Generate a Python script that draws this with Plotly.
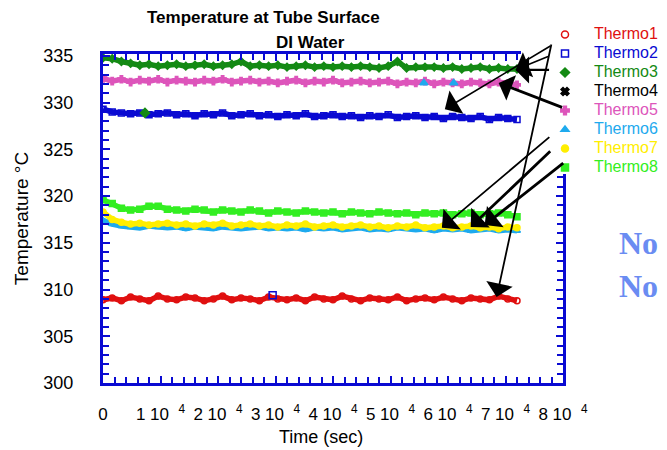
import plotly.graph_objects as go

# ---------------- data ----------------
time_sec = [0, 1600, 3200, 4800, 6400, 8000, 9600, 11200, 12800, 14400,
            16000, 17600, 19200, 20800, 22400, 24000, 25600, 27200, 28800, 30400,
            32000, 33600, 35200, 36800, 38400, 40000, 41600, 43200, 44800, 46400,
            48000, 49600, 51200, 52800, 54400, 56000, 57600, 59200, 60800, 62400,
            64000, 65600, 67200, 68800, 70400, 72000]

thermo1 = [308.9, 309.1, 308.8, 309.2, 309.0, 308.8, 309.3, 309.0, 308.9, 309.2,
           309.1, 308.8, 309.0, 309.3, 308.9, 309.1, 309.0, 308.8, 309.2, 309.0,
           308.9, 309.1, 308.8, 309.2, 309.0, 308.9, 309.3, 309.0, 308.8, 309.1,
           309.0, 308.9, 309.2, 308.8, 309.0, 309.1, 308.9, 309.2, 309.0, 308.8,
           309.1, 309.0, 308.9, 309.3, 309.0, 308.8]
thermo2 = [329.3, 329.0, 328.9, 328.8, 328.9, 328.7, 328.8, 328.9, 328.7, 328.8,
           328.6, 328.8, 328.7, 328.9, 328.6, 328.7, 328.8, 328.6, 328.7, 328.5,
           328.7, 328.6, 328.8, 328.5, 328.6, 328.7, 328.5, 328.6, 328.4, 328.6,
           328.5, 328.7, 328.4, 328.5, 328.6, 328.4, 328.5, 328.3, 328.5, 328.4,
           328.3, 328.5, 328.2, 328.4, 328.3, 328.2]
thermo3 = [334.8, 334.7, 334.4, 334.2, 334.0, 334.1, 333.9, 334.0, 334.1, 333.9,
           334.0, 334.1, 333.9, 334.0, 334.1, 334.4, 333.9, 334.0, 333.9, 334.0,
           333.8, 333.9, 334.0, 333.8, 333.9, 333.8, 333.9, 333.8, 333.9, 333.8,
           333.7, 333.9, 334.4, 333.7, 333.8, 333.8, 333.8, 333.7, 333.8, 333.6,
           333.7, 333.8, 333.6, 333.7, 333.6, 333.6]
thermo4 = [None]
thermo5 = [332.6, 332.3, 332.5, 332.2, 332.4, 332.3, 332.5, 332.2, 332.4, 332.3,
           332.2, 332.4, 332.3, 332.5, 332.2, 332.3, 332.4, 332.2, 332.3, 332.1,
           332.3, 332.4, 332.1, 332.3, 332.2, 332.4, 332.1, 332.2, 332.3, 332.1,
           332.2, 332.3, 332.0, 332.2, 332.1, 332.3, 332.0, 332.2, 332.1, 332.0,
           332.2, 332.1, 332.0, 332.2, 332.0, 331.9]
thermo6 = [317.4, 317.0, 316.8, 316.7, 316.6, 316.8, 316.7, 316.6, 316.7, 316.5,
           316.7, 316.6, 316.5, 316.7, 316.6, 316.5, 316.6, 316.7, 316.5, 316.6,
           316.5, 316.6, 316.4, 316.6, 316.5, 316.6, 316.4, 316.5, 316.6, 316.4,
           316.5, 316.4, 316.6, 316.5, 316.4, 316.5, 316.3, 316.5, 316.4, 316.5,
           316.3, 316.4, 316.5, 316.3, 316.4, 316.3]
thermo7 = [318.3, 317.5, 317.2, 317.0, 317.1, 316.9, 317.0, 317.1, 316.9, 317.0,
           316.8, 317.0, 316.9, 317.1, 316.8, 316.9, 317.0, 316.8, 316.9, 316.7,
           316.9, 316.8, 317.0, 316.7, 316.8, 316.9, 316.7, 316.8, 316.9, 316.7,
           316.8, 316.6, 316.8, 316.7, 316.9, 316.6, 316.7, 316.8, 316.6, 316.7,
           316.8, 316.6, 316.7, 316.5, 316.7, 316.6]
thermo8 = [319.6, 319.2, 318.7, 318.5, 318.6, 318.9, 318.9, 318.6, 318.5, 318.4,
           318.6, 318.5, 318.3, 318.5, 318.4, 318.3, 318.5, 318.4, 318.2, 318.4,
           318.3, 318.2, 318.4, 318.3, 318.2, 318.3, 318.1, 318.3, 318.2, 318.1,
           318.3, 318.2, 318.1, 318.2, 318.0, 318.2, 318.1, 318.2, 318.0, 318.1,
           318.2, 318.0, 318.1, 318.2, 318.0, 317.8]

# stray points
thermo2_stray_x = [29500]
thermo2_stray_y = [309.4]
thermo3_stray_x = [7300]
thermo3_stray_y = [328.9]
thermo6_stray_x = [55800, 61000]
thermo6_stray_y = [332.1, 332.1]

series_names = ["Thermo1", "Thermo2", "Thermo3", "Thermo4",
                "Thermo5", "Thermo6", "Thermo7", "Thermo8"]
x_tick_vals = [0, 10000, 20000, 30000, 40000, 50000, 60000, 70000, 80000]
SUP = "\u00a0\u00a0<sup>4</sup>"
x_tick_text = ["0", "1 10" + SUP, "2 10" + SUP, "3 10" + SUP, "4 10" + SUP,
               "5 10" + SUP, "6 10" + SUP, "7 10" + SUP, "8 10" + SUP]
y_tick_vals = [300, 305, 310, 315, 320, 325, 330, 335]

# arrows: (head x, head y, tail offset x px, tail offset y px, width)
arrow_specs = [
    (59450, 329.3, 107, -64, 1.6),
    (71750, 333.5, 35, 0, 2.4),
    (71750, 333.5, 34, -14, 1.6),
    (68460, 309.2, 55, -254, 1.8),
    (68800, 332.1, 65, 25, 2.8),
    (58930, 316.6, 109, -92, 1.8),
    (63950, 316.7, 81, -77, 2.8),
    (66380, 316.9, 80, -63, 2.8),
]

# ---------------- styles ----------------
FRAME = "#0a0ad2"
colors = ["#e01010", "#0a0ad2", "#148a14", "#000000",
          "#dd55bb", "#1eaaee", "#ffee00", "#33ee22"]
symbols = ["circle-open", "square-open", "diamond", "x",
           "cross", "triangle-up", "circle", "square"]
values = [thermo1, thermo2, thermo3, thermo4, thermo5, thermo6, thermo7, thermo8]

fig = go.Figure()

for name, col, sym, vals in zip(series_names, colors, symbols, values):
    if vals != [None]:
        fig.add_trace(go.Scatter(
            x=time_sec, y=vals, mode="lines+markers",
            line=dict(color=col, width=5.5),
            marker=dict(symbol=sym, size=6, color=col, line=dict(color=col, width=1.5)),
            showlegend=False, hoverinfo="skip"))

for sx, sy, idx in [(thermo2_stray_x, thermo2_stray_y, 1),
                    (thermo3_stray_x, thermo3_stray_y, 2),
                    (thermo6_stray_x, thermo6_stray_y, 5)]:
    fig.add_trace(go.Scatter(
        x=sx, y=sy, mode="markers",
        marker=dict(symbol=symbols[idx], size=7, color=colors[idx],
                    line=dict(color=colors[idx], width=1.5)),
        showlegend=False, hoverinfo="skip"))

# legend entries (marker only)
PAD = "\u00a0" * 2
TAIL = "\u00a0" * 4
for name, col, sym in zip(series_names, colors, symbols):
    fig.add_trace(go.Scatter(
        x=[None], y=[None], mode="markers",
        marker=dict(symbol=sym, size=7, color=col, line=dict(color=col, width=1.5)),
        name=f"<span style='font-size:16px;color:{col}'>{PAD}{name}</span>{TAIL}",
        showlegend=True))

# The page body has an 8px default margin, so the figure is drawn 8px in from
# the window's top-left corner and is visible only up to 8px short of the
# window's right edge; screen positions are converted accordingly.
OFF = 8
W, H = 667 - 2 * OFF, 450 - OFF
L, T = 103 - OFF, 54 - OFF
R = W - (563 - OFF)
B = H - (383 - OFF)
pw, ph = W - L - R, H - T - B


def px(xp):
    return (xp - OFF - L) / pw


def py(yp):
    return (H - B - (yp - OFF)) / ph


annotations = [
    dict(text="<b>Temperature at Tube Surface</b>", x=px(263), y=py(17),
         xref="paper", yref="paper", showarrow=False, xanchor="center", yanchor="middle",
         font=dict(size=17, color="black", family="Arial, Liberation Sans")),
    dict(text="<b>DI Water</b>", x=px(310), y=py(42),
         xref="paper", yref="paper", showarrow=False, xanchor="center", yanchor="middle",
         font=dict(size=17, color="black", family="Arial, Liberation Sans")),
    dict(text="<b>No</b>", x=px(617), y=py(243), xref="paper", yref="paper",
         showarrow=False, xanchor="left", yanchor="middle",
         font=dict(size=32, color="#6a8cf2", family="Times New Roman, Liberation Serif")),
    dict(text="<b>No</b>", x=px(617), y=py(286), xref="paper", yref="paper",
         showarrow=False, xanchor="left", yanchor="middle",
         font=dict(size=32, color="#6a8cf2", family="Times New Roman, Liberation Serif")),
    dict(text="Time (sec)", x=px(321), y=py(437), xref="paper", yref="paper",
         showarrow=False, xanchor="center", yanchor="middle",
         font=dict(size=18, color="black", family="Arial, Liberation Sans")),
]
for hx, hy, ax, ay, w in arrow_specs:
    annotations.append(dict(x=hx, y=hy, xref="x", yref="y", ax=ax, ay=ay,
                            text="", showarrow=True, arrowhead=1, arrowsize=4.5 / w,
                            arrowwidth=w, arrowcolor="black", standoff=0, startstandoff=0))

fig.update_layout(
    width=W, height=H,
    margin=dict(l=L, r=R, t=T, b=B, pad=0, autoexpand=False),
    paper_bgcolor="white", plot_bgcolor="white",
    font=dict(family="Arial, Liberation Sans", color="black"),
    showlegend=True,
    legend=dict(x=px(545), y=py(20), xanchor="left", yanchor="top",
                bgcolor="rgba(0,0,0,0)", borderwidth=0,
                font=dict(size=12, family="Arial, Liberation Sans")),
    annotations=annotations,
    shapes=[dict(type="rect", xref="paper", yref="paper",
                 x0=px(521), x1=px(700), y0=py(174), y1=py(-10),
                 fillcolor="white", line=dict(width=0), layer="above")],
)

fig.update_xaxes(
    range=[0, 80000], tickvals=x_tick_vals, ticktext=x_tick_text,
    showline=True, linecolor=FRAME, linewidth=3, mirror="ticks",
    ticks="inside", ticklen=7, tickwidth=2, tickcolor=FRAME,
    minor=dict(dtick=2000, ticks="inside", ticklen=6, tickwidth=2, tickcolor=FRAME),
    showgrid=False, zeroline=False, automargin=False,
    tickfont=dict(size=17, color="black"), ticklabelstandoff=14,
)
fig.update_yaxes(
    range=[300, 335.2], tickvals=y_tick_vals,
    showline=True, linecolor=FRAME, linewidth=3, mirror="ticks",
    ticks="inside", ticklen=7, tickwidth=2, tickcolor=FRAME,
    minor=dict(dtick=1, ticks="inside", ticklen=6, tickwidth=2, tickcolor=FRAME),
    showgrid=False, zeroline=False, automargin=False,
    tickfont=dict(size=18, color="black"), ticklabelstandoff=23,
    title=dict(text="Temperature °C", font=dict(size=19, color="black"), standoff=10),
)

fig.write_html("out.html")
